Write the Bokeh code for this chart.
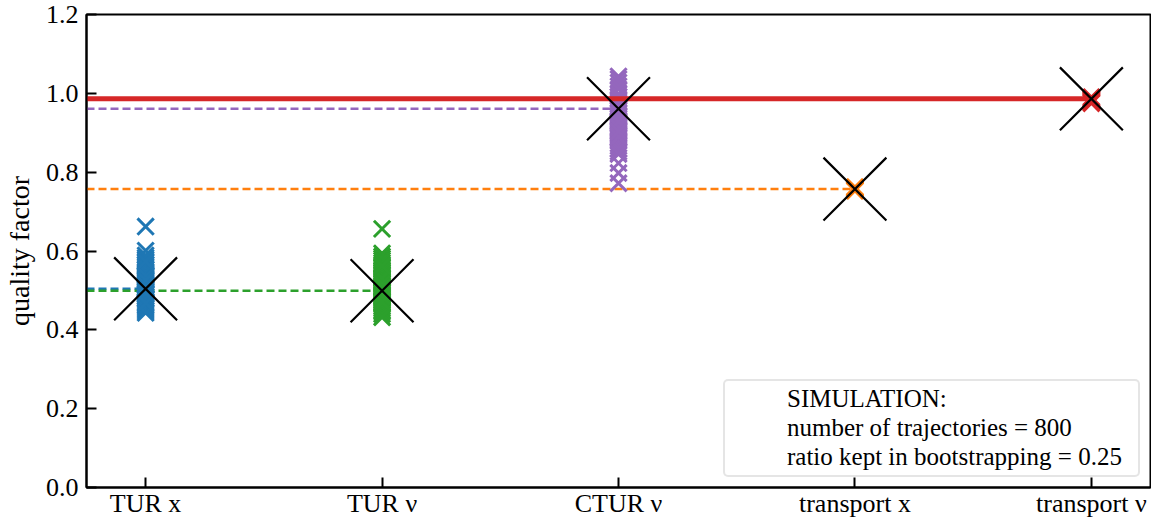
from bokeh.plotting import figure
from bokeh.models import Range1d, FixedTicker, PrintfTickFormatter, Legend, LegendItem, ColumnDataSource
from bokeh.embed import file_html
from bokeh.resources import INLINE

# ---------------- data ----------------
categories = ["TUR x", "TUR ν", "CTUR ν", "transport x", "transport ν"]
colors = ["#1f77b4", "#2ca02c", "#9467bd", "#ff7f0e", "#d62728"]

tur_x = [0.662, 0.601, 0.589, 0.583, 0.578, 0.571, 0.566, 0.561, 0.557, 0.552,
         0.546, 0.541, 0.537, 0.532, 0.527, 0.521, 0.516, 0.512, 0.507, 0.503,
         0.498, 0.494, 0.489, 0.484, 0.479, 0.476, 0.471, 0.466, 0.462, 0.458,
         0.453, 0.448, 0.443, 0.537, 0.514, 0.492, 0.505, 0.526, 0.468, 0.574]
tur_nu = [0.656, 0.594, 0.586, 0.581, 0.576, 0.570, 0.565, 0.559, 0.554, 0.549,
          0.544, 0.538, 0.533, 0.529, 0.524, 0.519, 0.513, 0.508, 0.503, 0.499,
          0.494, 0.489, 0.484, 0.479, 0.474, 0.469, 0.465, 0.460, 0.455, 0.450,
          0.446, 0.440, 0.432, 0.531, 0.517, 0.497, 0.486, 0.562, 0.471, 0.509]
ctur_nu = [1.043, 1.036, 1.027, 1.018, 1.010, 0.998, 0.992, 0.985, 0.978, 0.971,
           0.965, 0.958, 0.951, 0.944, 0.937, 0.931, 0.924, 0.917, 0.911, 0.905,
           0.898, 0.892, 0.886, 0.879, 0.872, 0.866, 0.859, 0.852, 0.846, 0.823,
           0.798, 0.772, 0.941, 0.913, 0.889, 0.962, 0.928, 0.903]
transport_x = [0.757, 0.755, 0.760, 0.753, 0.762, 0.758, 0.756, 0.759, 0.754, 0.761]
transport_nu = [0.983, 0.978, 0.988, 0.975, 0.985, 0.980, 0.990, 0.977, 0.982, 0.986]
samples = [tur_x, tur_nu, ctur_nu, transport_x, transport_nu]

means = [0.504, 0.499, 0.961, 0.757, 0.986]
y_ticks = [0.0, 0.2, 0.4, 0.6, 0.8, 1.0, 1.2]
legend_lines = ["SIMULATION:", "number of trajectories = 800",
                "ratio kept in bootstrapping = 0.25"]

X_START, X_END = -0.25, 4.25
FONT = "Liberation Serif"

# ---------------- figure ----------------
p = figure(width=1151, height=520, x_range=Range1d(X_START, X_END), y_range=Range1d(0, 1.2),
           output_backend="svg", toolbar_location=None,
           min_border_left=80, min_border_right=1, min_border_top=14, min_border_bottom=27)
p.background_fill_color = "white"
p.border_fill_color = "white"
p.outline_line_color = "black"
p.outline_line_width = 2
p.xgrid.visible = False
p.ygrid.visible = False

# mean lines (from left edge to the category)
for i, (m, c) in enumerate(zip(means, colors)):
    if i == 4:
        continue
    p.segment(x0=[X_START], x1=[i], y0=[m], y1=[m], line_color=c, line_width=2.5,
              line_dash="8 4")

# bootstrap samples
for i, (vals, c) in enumerate(zip(samples, colors)):
    src = ColumnDataSource(dict(x=[i] * len(vals), y=vals))
    p.scatter("x", "y", source=src, marker="x", size=23, line_color=c, line_width=3)

# red solid line for transport nu
p.segment(x0=[X_START], x1=[4], y0=[means[4]], y1=[means[4]], line_color=colors[4], line_width=5)

# big black crosses at mean values
p.scatter(x=list(range(len(means))), y=means, marker="x", size=89, line_color="black", line_width=2.2)

# axes
p.yaxis.ticker = FixedTicker(ticks=y_ticks)
p.yaxis.formatter = PrintfTickFormatter(format="%.1f")
p.xaxis.ticker = FixedTicker(ticks=list(range(len(categories))))
p.xaxis.major_label_overrides = {i: lab for i, lab in enumerate(categories)}
for ax in (p.xaxis, p.yaxis):
    ax.major_tick_in = 10
    ax.major_tick_out = 0
    ax.minor_tick_line_color = None
    ax.major_tick_line_width = 2
    ax.axis_line_width = 2
    ax.axis_line_color = "black"
    ax.major_label_text_font = FONT
    ax.major_label_text_font_size = "26px"
    ax.major_label_text_color = "black"
p.xaxis.major_label_standoff = 1
p.yaxis.major_label_standoff = 8
p.yaxis.axis_label = "quality factor"
p.yaxis.axis_label_text_font = FONT
p.yaxis.axis_label_text_font_size = "28px"
p.yaxis.axis_label_text_font_style = "normal"
p.yaxis.axis_label_text_color = "black"
p.yaxis.axis_label_standoff = 8

# text-only legend box
dummy = p.scatter(x=[], y=[], marker="square", fill_alpha=0, line_alpha=0)
legend = Legend(items=[LegendItem(label=t, renderers=[dummy]) for t in legend_lines],
                location="bottom_right", margin=10, padding=4, spacing=1,
                glyph_width=48, glyph_height=22, label_height=22, label_width=347,
                label_standoff=10, label_text_font=FONT, label_text_font_size="25px",
                label_text_color="black", border_line_color="#cccccc", border_line_width=2,
                background_fill_color="white", background_fill_alpha=0.8)
if "border_radius" in Legend.properties():
    legend.border_radius = 5
p.add_layout(legend)

open("out.html", "w").write(file_html(p, INLINE))
